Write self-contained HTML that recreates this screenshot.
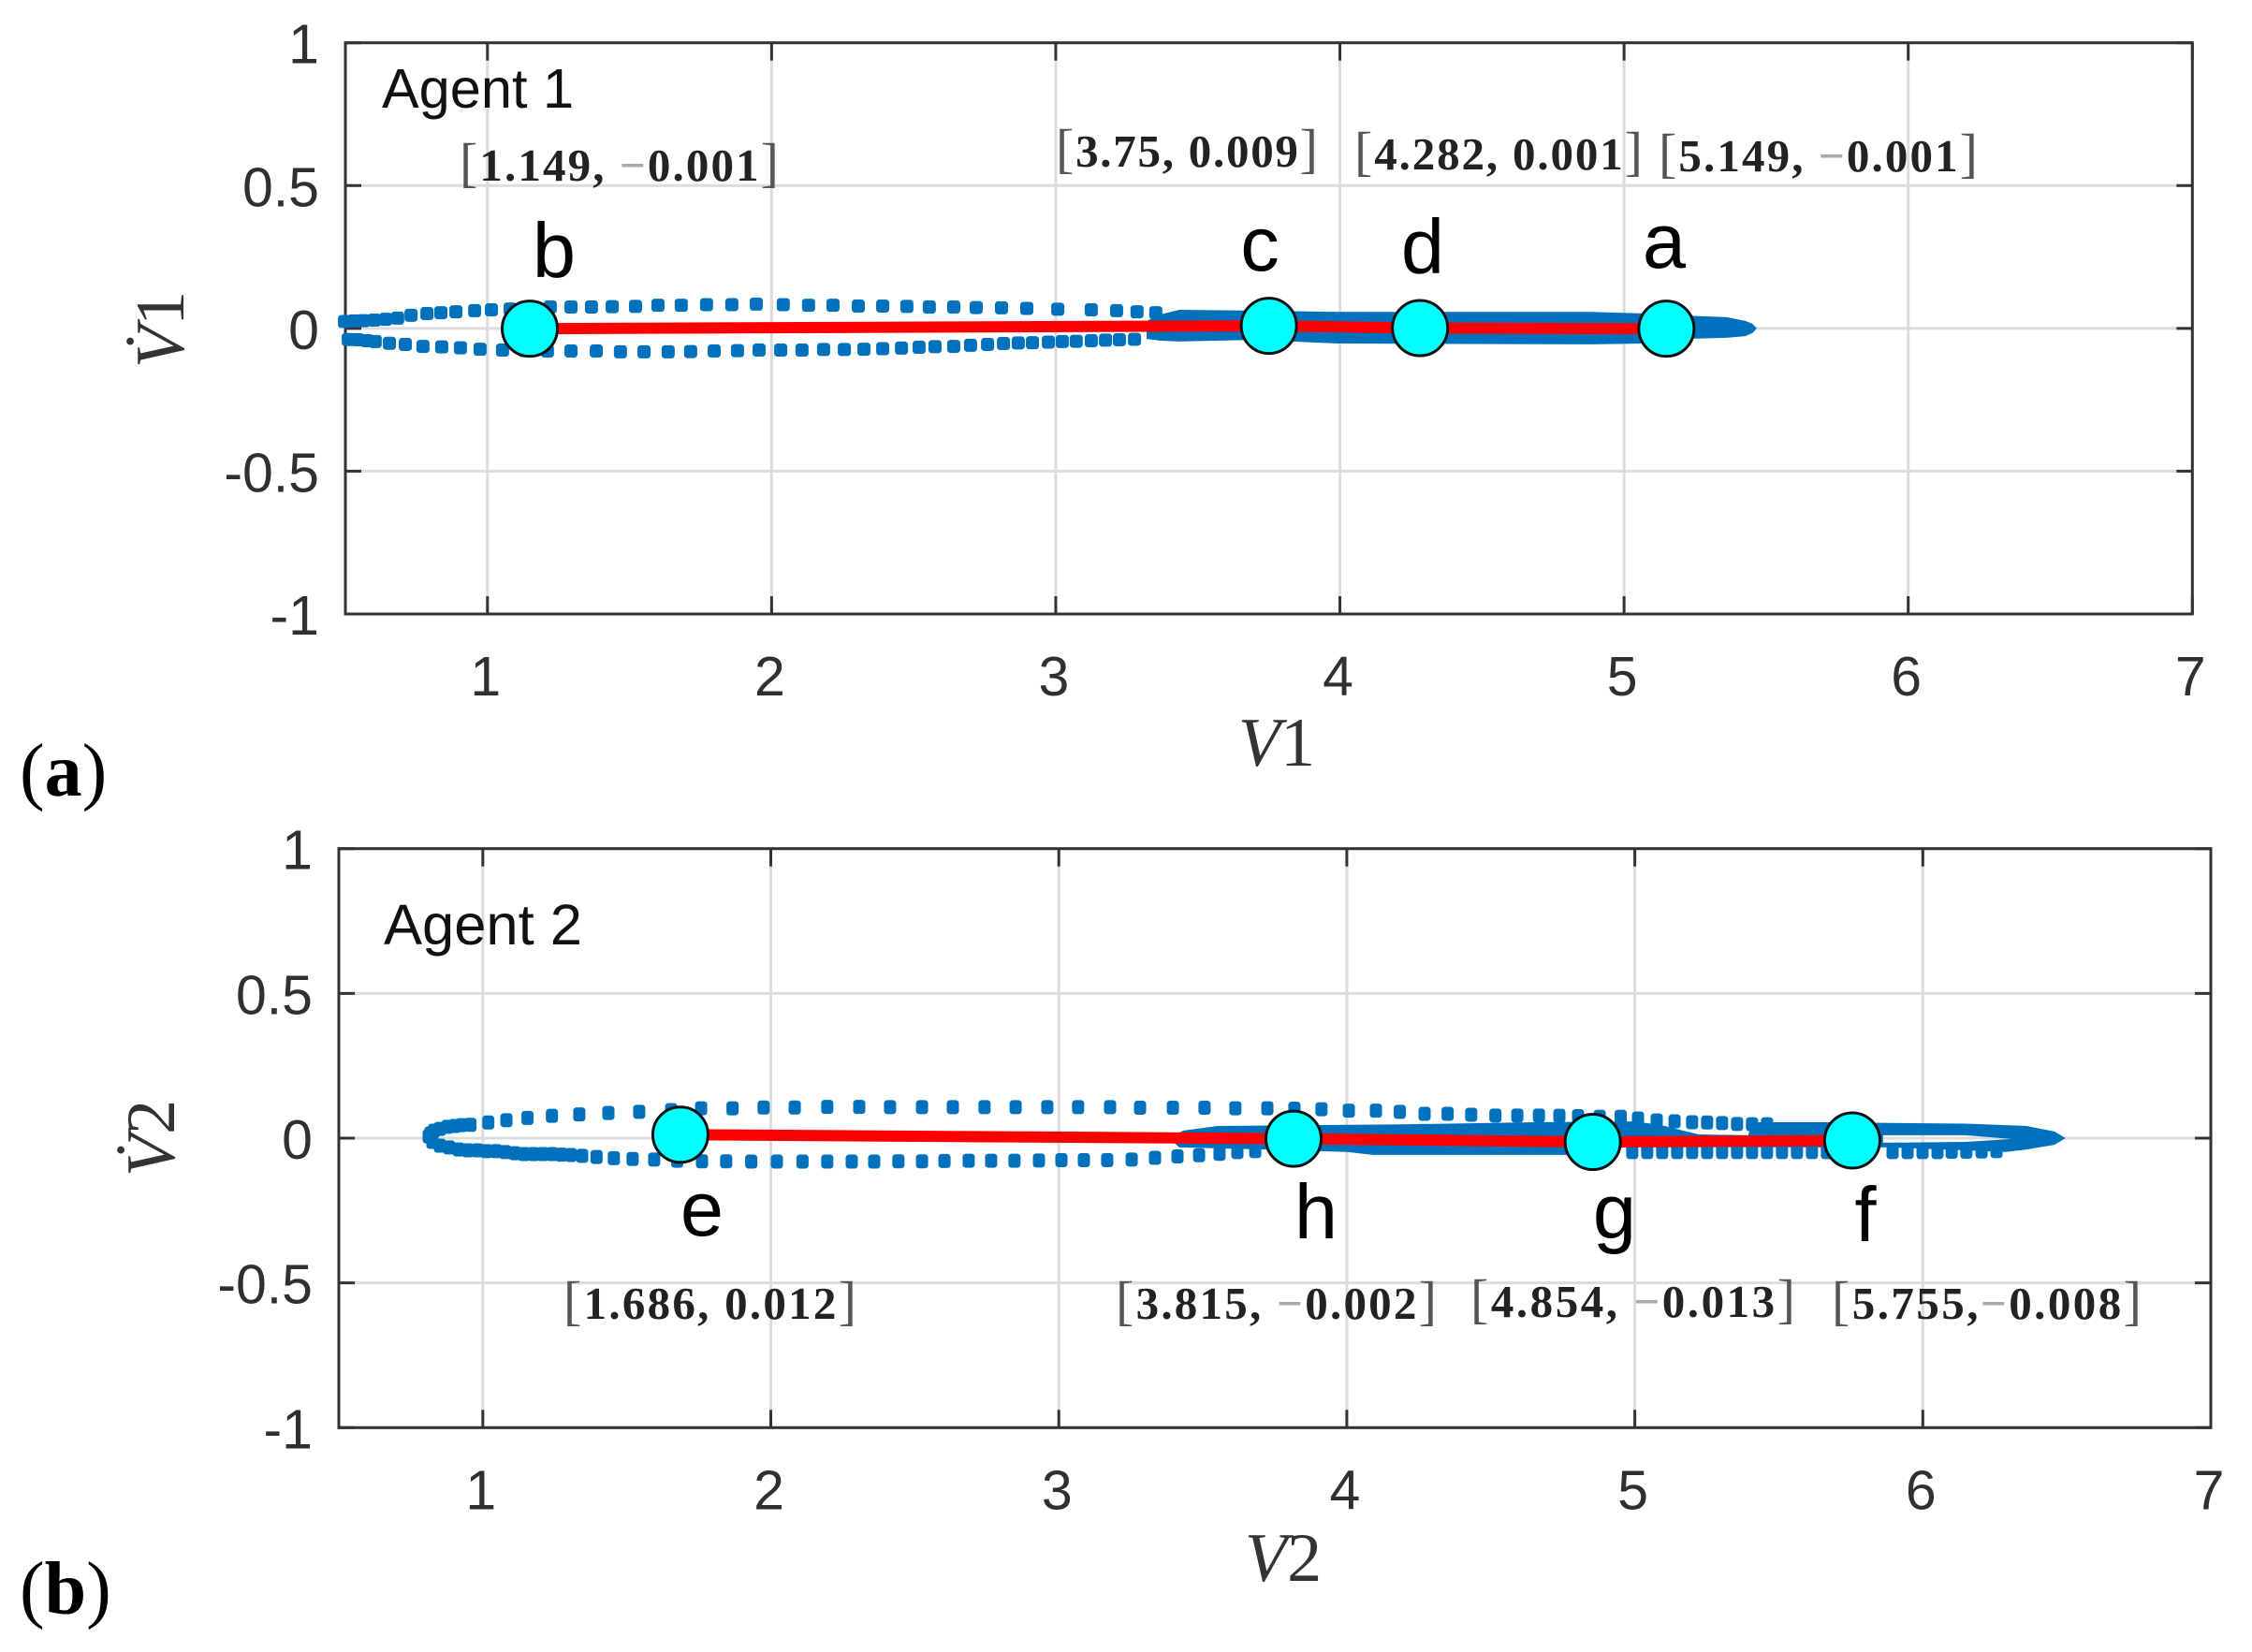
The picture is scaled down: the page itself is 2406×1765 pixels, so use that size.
<!DOCTYPE html>
<html lang="en">
<head>
<meta charset="utf-8">
<title>Agent phase portraits</title>
<style>
html,body{margin:0;padding:0;background:#fff;}
#stage{display:block;width:2406px;height:1765px;background:#fff;}
.tick-label{font-family:"Liberation Sans",sans-serif;font-size:59px;fill:#303030;}
.agent{font-family:"Liberation Sans",sans-serif;fill:#111;}
.letter{font-family:"Liberation Sans",sans-serif;font-size:83px;fill:#000;text-anchor:middle;}
.coord{font-family:"Liberation Serif",serif;font-size:49px;font-weight:bold;fill:#222;}
.coord .soft{fill:#aaa;}
.coord .br{fill:#555;font-weight:normal;font-size:58px;}
.axis-title{font-family:"Liberation Serif",serif;font-size:74px;fill:#333;text-anchor:middle;font-style:italic;}
.axis-title tspan{font-style:normal;}
.panel-tag{font-family:"Liberation Serif",serif;font-size:80px;fill:#000;}
.panel-tag tspan{font-weight:bold;}
</style>
</head>
<body>
<svg id="stage" xmlns="http://www.w3.org/2000/svg" width="2406" height="1765" viewBox="0 0 2406 1765">
  <g id="plot-a"></g>
  <g id="plot-b"></g>

  <g>
    <text class="agent" x="408" y="115" font-size="59.5">Agent 1</text>
    <text class="letter" x="592" y="296">b</text>
    <text class="letter" x="1346" y="289">c</text>
    <text class="letter" x="1520" y="292">d</text>
    <text class="letter" x="1778" y="286">a</text>
    <text class="coord" x="491" y="193" textLength="341"><tspan class="br">[</tspan>1.149, <tspan class="soft">−</tspan>0.001<tspan class="br">]</tspan></text>
    <text class="coord" x="1128" y="178" textLength="280"><tspan class="br">[</tspan>3.75, 0.009<tspan class="br">]</tspan></text>
    <text class="coord" x="1447" y="181" textLength="308"><tspan class="br">[</tspan>4.282, 0.001<tspan class="br">]</tspan></text>
    <text class="coord" x="1772" y="183" textLength="341"><tspan class="br">[</tspan>5.149, <tspan class="soft">−</tspan>0.001<tspan class="br">]</tspan></text>
    <text class="axis-title" x="1364" y="818">V<tspan>1</tspan></text>
    <text class="axis-title" x="196" y="352" transform="rotate(-90 196 352)">V̇<tspan>1</tspan></text>
    <text class="panel-tag" x="21" y="850">(<tspan>a</tspan>)</text>
  </g>

  <g>
    <text class="agent" x="410" y="1009" font-size="61.5">Agent 2</text>
    <text class="letter" x="750" y="1320">e</text>
    <text class="letter" x="1406" y="1323">h</text>
    <text class="letter" x="1725" y="1323">g</text>
    <text class="letter" x="1993" y="1326">f</text>
    <text class="coord" x="602" y="1409" textLength="313"><tspan class="br">[</tspan>1.686, 0.012<tspan class="br">]</tspan></text>
    <text class="coord" x="1192" y="1409" textLength="343"><tspan class="br">[</tspan>3.815, <tspan class="soft">−</tspan>0.002<tspan class="br">]</tspan></text>
    <text class="coord" x="1571" y="1407" textLength="347"><tspan class="br">[</tspan>4.854, <tspan class="soft">−</tspan>0.013<tspan class="br">]</tspan></text>
    <text class="coord" x="1957" y="1409" textLength="331"><tspan class="br">[</tspan>5.755,<tspan class="soft">−</tspan>0.008<tspan class="br">]</tspan></text>
    <text class="axis-title" x="1371" y="1689">V<tspan>2</tspan></text>
    <text class="axis-title" x="186" y="1216" transform="rotate(-90 186 1216)">V̇<tspan>2</tspan></text>
    <text class="panel-tag" x="21" y="1724">(<tspan>b</tspan>)</text>
  </g>
</svg>

<script>
// Shared axis ticks
var xTickValues = [1, 2, 3, 4, 5, 6, 7];
var xTickLabels = ['1', '2', '3', '4', '5', '6', '7'];
var yTickValues = [1, 0.5, 0, -0.5, -1];
var yTickLabels = ['1', '0.5', '0', '-0.5', '-1'];

// Agent 1: dotted trajectory, upper and lower branches (V1, dV1)
var agent1UpperX = [0.497,0.53,0.563,0.602,0.642,0.684,0.731,0.787,0.836,0.889,0.955,1.014,1.08,1.149,1.221,1.294,1.366,1.439,1.521,1.6,1.682,1.771,1.86,1.946,2.041,2.13,2.216,2.305,2.391,2.476,2.555,2.641,2.72,2.809,2.898,3.007,3.125,3.214,3.286,3.352];
var agent1UpperY = [0.024,0.026,0.027,0.029,0.032,0.036,0.046,0.052,0.055,0.058,0.062,0.065,0.068,0.072,0.075,0.075,0.075,0.076,0.077,0.081,0.081,0.083,0.083,0.085,0.083,0.081,0.081,0.078,0.078,0.077,0.075,0.075,0.073,0.072,0.07,0.067,0.065,0.062,0.058,0.055];
var agent1LowerX = [0.51,0.543,0.576,0.605,0.655,0.711,0.773,0.839,0.905,0.974,1.053,1.132,1.211,1.294,1.383,1.468,1.551,1.636,1.715,1.798,1.88,1.956,2.032,2.107,2.183,2.256,2.325,2.391,2.457,2.519,2.575,2.641,2.7,2.76,2.816,2.868,2.918,2.974,3.023,3.072,3.125,3.175,3.224,3.277];
var agent1LowerY = [-0.039,-0.04,-0.043,-0.046,-0.052,-0.056,-0.063,-0.065,-0.068,-0.073,-0.076,-0.078,-0.079,-0.079,-0.079,-0.082,-0.082,-0.082,-0.081,-0.079,-0.078,-0.076,-0.076,-0.076,-0.074,-0.074,-0.073,-0.071,-0.069,-0.066,-0.064,-0.063,-0.059,-0.056,-0.053,-0.051,-0.05,-0.048,-0.046,-0.045,-0.043,-0.041,-0.04,-0.038];

// Agent 1: dense band outline
var agent1BandX = [3.32,3.369,3.435,3.698,3.995,4.884,5.082,5.214,5.362,5.427,5.452,5.467,5.452,5.427,5.362,5.214,5.082,4.884,3.995,3.698,3.435,3.369,3.32];
var agent1BandY = [0.026,0.049,0.065,0.062,0.058,0.058,0.052,0.045,0.039,0.026,0.016,0,-0.016,-0.027,-0.033,-0.037,-0.053,-0.056,-0.053,-0.04,-0.046,-0.043,-0.037];

// Agent 1: highlighted points
var agent1PointNames = ['b', 'c', 'd', 'a'];
var agent1PointX = [1.149, 3.75, 4.282, 5.149];
var agent1PointY = [-0.001, 0.009, 0.001, -0.001];

// Agent 2: dotted trajectory, upper and lower branches (V2, dV2)
var agent2UpperX = [0.812,0.818,0.831,0.851,0.877,0.903,0.926,0.957,1.019,1.082,1.155,1.24,1.335,1.436,1.543,1.654,1.758,1.867,1.975,2.083,2.196,2.307,2.414,2.525,2.632,2.742,2.85,2.96,3.067,3.178,3.282,3.396,3.506,3.613,3.724,3.818,3.912,4.007,4.101,4.184,4.27,4.35,4.432,4.516,4.592,4.667,4.738,4.803,4.878,4.951,5.011,5.076,5.138,5.199,5.251,5.303,5.355,5.407,5.459];
var agent2UpperY = [0.006,0.016,0.026,0.032,0.039,0.042,0.045,0.046,0.054,0.062,0.07,0.077,0.082,0.087,0.091,0.097,0.103,0.103,0.106,0.106,0.108,0.108,0.107,0.107,0.107,0.107,0.107,0.107,0.107,0.107,0.105,0.105,0.105,0.103,0.103,0.102,0.1,0.095,0.095,0.091,0.084,0.084,0.081,0.078,0.078,0.078,0.077,0.076,0.074,0.074,0.068,0.061,0.058,0.055,0.054,0.052,0.049,0.048,0.048];
var agent2LowerX = [0.825,0.851,0.883,0.916,0.948,0.981,1.013,1.046,1.078,1.111,1.143,1.176,1.208,1.241,1.273,1.306,1.345,1.395,1.455,1.52,1.595,1.675,1.761,1.845,1.932,2.021,2.11,2.196,2.281,2.359,2.443,2.525,2.603,2.687,2.765,2.846,2.931,3.009,3.087,3.168,3.253,3.334,3.412,3.487,3.558,3.62,3.682];
var agent2LowerY = [-0.013,-0.026,-0.032,-0.039,-0.042,-0.042,-0.045,-0.045,-0.048,-0.052,-0.055,-0.055,-0.055,-0.055,-0.057,-0.058,-0.061,-0.065,-0.069,-0.072,-0.074,-0.078,-0.08,-0.08,-0.081,-0.081,-0.081,-0.081,-0.081,-0.081,-0.08,-0.08,-0.079,-0.078,-0.078,-0.078,-0.077,-0.076,-0.076,-0.076,-0.074,-0.068,-0.063,-0.059,-0.054,-0.048,-0.045];
var agent2EdgeX = [4.991,5.043,5.095,5.147,5.199,5.251,5.303,5.355,5.407,5.459,5.511,5.563,5.615,5.667,5.719,5.895,5.947,5.999,6.051,6.1,6.151,6.204,6.256];
var agent2EdgeY = [-0.048,-0.048,-0.048,-0.048,-0.048,-0.048,-0.048,-0.048,-0.048,-0.048,-0.048,-0.048,-0.048,-0.048,-0.048,-0.048,-0.048,-0.048,-0.048,-0.047,-0.047,-0.046,-0.045];

// Agent 2: dense band outline and inner gap
var agent2BandX = [3.386,3.431,3.552,4.198,4.653,5.001,5.092,5.18,5.222,5.394,5.407,5.661,6.148,6.36,6.457,6.496,6.457,6.36,6.288,5.888,4.962,4.848,4.091,4.0,3.718,3.418];
var agent2BandY = [-0.003,0.026,0.042,0.048,0.055,0.058,0.045,0.023,0.013,0.01,0.055,0.055,0.05,0.042,0.023,0,-0.023,-0.039,-0.048,-0.032,-0.032,-0.058,-0.058,-0.048,-0.039,-0.032];
var agent2GapX = [5.862,6.148,6.308,6.148,5.862];
var agent2GapY = [0.01,0.01,-0.003,-0.013,-0.016];

// Agent 2: highlighted points
var agent2PointNames = ['e', 'h', 'g', 'f'];
var agent2PointX = [1.686, 3.815, 4.854, 5.755];
var agent2PointY = [0.012, -0.002, -0.013, -0.008];

var NS = 'http://www.w3.org/2000/svg';

function make(tag, attrs, parent) {
  var el = document.createElementNS(NS, tag);
  for (var k in attrs) { el.setAttribute(k, attrs[k]); }
  parent.appendChild(el);
  return el;
}

function pathFrom(xs, ys, sx, sy) {
  var d = '';
  for (var i = 0; i < xs.length; i++) {
    d += (i ? 'L' : 'M') + sx(xs[i]).toFixed(1) + ' ' + sy(ys[i]).toFixed(1);
  }
  return d + 'Z';
}

function drawPanel(cfg) {
  var root = document.getElementById(cfg.id);
  var sx = function (v) { return cfg.left + (v - 0.5) * (cfg.right - cfg.left) / 6.5; };
  var sy = function (v) { return cfg.bottom - (v + 1) * (cfg.bottom - cfg.top) / 2; };

  // grid
  xTickValues.forEach(function (v) {
    var g = make('line', {x1: sx(v), x2: sx(v), y1: cfg.top, y2: cfg.bottom, stroke: '#dcdcdc', 'stroke-width': 3}, root);
    
    
  });
  yTickValues.forEach(function (v) {
    var g = make('line', {x1: cfg.left, x2: cfg.right, y1: sy(v), y2: sy(v), stroke: '#dcdcdc', 'stroke-width': 3}, root);
    
    
  });

  // ticks
  xTickValues.forEach(function (v, i) {
    var t1 = make('line', {x1: sx(v), x2: sx(v), y1: cfg.bottom, y2: cfg.bottom - 19, stroke: '#333', 'stroke-width': 3}, root);
    
    
    var t2 = make('line', {x1: sx(v), x2: sx(v), y1: cfg.top, y2: cfg.top + 19, stroke: '#333', 'stroke-width': 3}, root);
    
    
    var lab = make('text', {x: sx(v) - 2, y: cfg.bottom + 87, 'text-anchor': 'middle', 'class': 'tick-label'}, root);
    lab.textContent = xTickLabels[i];
    
    
  });
  yTickValues.forEach(function (v, i) {
    var t1 = make('line', {x1: cfg.left, x2: cfg.left + 17, y1: sy(v), y2: sy(v), stroke: '#333', 'stroke-width': 3}, root);
    
    
    var t2 = make('line', {x1: cfg.right, x2: cfg.right - 17, y1: sy(v), y2: sy(v), stroke: '#333', 'stroke-width': 3}, root);
    
    
    var lab = make('text', {x: cfg.left - 28, y: sy(v) + 22, 'text-anchor': 'end', 'class': 'tick-label'}, root);
    lab.textContent = yTickLabels[i];
    
    
  });

  // axes box
  var box = make('rect', {x: cfg.left, y: cfg.top, width: cfg.right - cfg.left, height: cfg.bottom - cfg.top, fill: 'none', stroke: '#333', 'stroke-width': 3}, root);
  
  

  // dotted trajectory
  cfg.dotSeries.forEach(function (s) {
    var g = make('g', {fill: '#0072bd'}, root);
    
    
    s[0].forEach(function (xv, i) {
      var dot = make('rect', {x: sx(xv) - cfg.dotW / 2, y: sy(s[1][i]) - cfg.dotH / 2, width: cfg.dotW, height: cfg.dotH, rx: 3.5, ry: 3.5}, g);
      
      
    });
  });

  // dense band
  var d = pathFrom(cfg.bandX, cfg.bandY, sx, sy);
  if (cfg.gapX) { d += pathFrom(cfg.gapX, cfg.gapY, sx, sy); }
  var band = make('path', {d: d, fill: '#0072bd', 'fill-rule': 'evenodd'}, root);
  
  

  // red segment through the points
  var pts = cfg.pointX.map(function (xv, i) { return sx(xv).toFixed(1) + ',' + sy(cfg.pointY[i]).toFixed(1); }).join(' ');
  var red = make('polyline', {points: pts, fill: 'none', stroke: '#ff0000', 'stroke-width': 12}, root);
  
  

  // markers
  cfg.pointX.forEach(function (xv, i) {
    var c = make('circle', {cx: sx(xv), cy: sy(cfg.pointY[i]), r: 29.5, fill: '#00ffff', stroke: '#111', 'stroke-width': 3}, root);
    
    
  });
}

drawPanel({
  id: 'plot-a', left: 369, right: 2342.3, top: 45.7, bottom: 656,
  dotW: 14, dotH: 14,
  dotSeries: [[agent1UpperX, agent1UpperY], [agent1LowerX, agent1LowerY]],
  bandX: agent1BandX, bandY: agent1BandY,
  pointX: agent1PointX, pointY: agent1PointY, pointNames: agent1PointNames
});

drawPanel({
  id: 'plot-b', left: 362, right: 2362, top: 906.7, bottom: 1525.3,
  dotW: 13, dotH: 15,
  dotSeries: [[agent2UpperX, agent2UpperY], [agent2LowerX, agent2LowerY], [agent2EdgeX, agent2EdgeY]],
  bandX: agent2BandX, bandY: agent2BandY, gapX: agent2GapX, gapY: agent2GapY,
  pointX: agent2PointX, pointY: agent2PointY, pointNames: agent2PointNames
});
</script>
</body>
</html>
